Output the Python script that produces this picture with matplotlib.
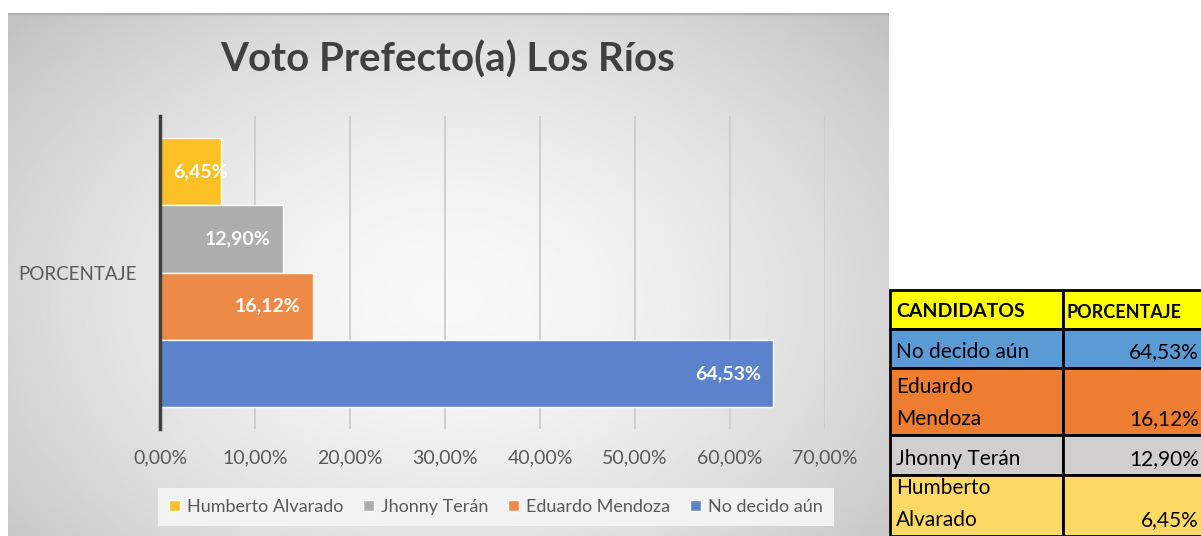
import numpy as np
import matplotlib
matplotlib.use("Agg")
import matplotlib.pyplot as plt
from matplotlib.patches import Rectangle

plt.rcParams['font.family'] = ['Lato', 'DejaVu Sans']

# data
candidatos = ['Humberto Alvarado', 'Jhonny Terán', 'Eduardo Mendoza', 'No decido aún']
porcentaje = [6.45, 12.90, 16.12, 64.53]
colores = ['#FBC124', '#ADADAD', '#EE8A48', '#5B82CA']
categoria = 'PORCENTAJE'
xticks = [0, 10, 20, 30, 40, 50, 60, 70]

tabla_nombres = ['No decido aún', 'Eduardo\nMendoza', 'Jhonny Terán', 'Humberto\nAlvarado']
tabla_valores = ['64,53%', '16,12%', '12,90%', '6,45%']
tabla_colores = ['#5B9BD5', '#ED7D31', '#D0CECE', '#FFD966']

W, H = 1201, 536
fig = plt.figure(figsize=(W / 100, H / 100), dpi=100)
fig.patch.set_facecolor('white')

def fx(px):
    return px / W

def fy(py):
    return 1 - py / H

# gradient background of the chart box
bg = fig.add_axes([fx(8), fy(536), fx(889 - 8), (536 - 13) / H])
yy, xx = np.mgrid[0:1:200j, 0:1:400j]
r = np.sqrt(((xx - 0.5) / 0.62) ** 2 + ((yy - 0.55) / 0.75) ** 2)
g = np.clip(0.975 - 0.19 * r ** 1.6, 0.76, 1)
bg.imshow(g, cmap='gray', vmin=0, vmax=1, aspect='auto', extent=[0, 1, 0, 1])
bg.axhline(1, color='#b0b0b0', lw=2.5)
bg.set_axis_off()

# main axes
ax = fig.add_axes([fx(160), fy(429), fx(825 - 160), (429 - 116) / H])
ax.set_facecolor('none')
n = len(porcentaje)
group = 0.862
h = group / n
start = 0.5 - group / 2
for i, (name, val, col) in enumerate(zip(candidatos, porcentaje, colores)):
    yc = start + h * (i + 0.5)
    ax.barh(yc, val, height=h, color=col, edgecolor='white', lw=1, label=name, zorder=3)
    lab = f'{val:.2f}%'.replace('.', ',')
    if val < 10:
        # label wider than the bar: starts inside the base
        ax.text(1.35, yc, lab, ha='left', va='center',
                color='white', fontsize=14, fontweight='bold', zorder=4)
    else:
        ax.text(val - 1.3, yc, lab, ha='right', va='center',
                color='white', fontsize=14, fontweight='bold', zorder=4)

ax.set_xlim(0, 70)
ax.set_ylim(1, 0)
ax.set_xticks(xticks)
ax.set_xticklabels([f'{t:.2f}%'.replace('.', ',') for t in xticks], fontsize=14, color='#595959')
ax.set_yticks([0.5])
ax.set_yticklabels([categoria], fontsize=13.5, color='#595959')
ax.tick_params(length=0, pad=15, axis='x')
ax.tick_params(length=0, pad=17, axis='y')
ax.grid(axis='x', color='#cccccc', lw=1.3, zorder=0)
for s in ['top', 'right', 'bottom']:
    ax.spines[s].set_visible(False)
ax.spines['left'].set_color('#404040')
ax.spines['left'].set_linewidth(2.5)
ax.spines['left'].set_zorder(5)

fig.text(fx(448), fy(60), 'Voto Prefecto(a) Los Ríos', ha='center', va='center',
         fontsize=29, fontweight='bold', color='#404040')

leg = fig.legend(loc='center', bbox_to_anchor=(fx(496), fy(507)), ncol=4,
                 frameon=True, fancybox=False, facecolor='#f2f2f2', edgecolor='none',
                 fontsize=13, handlelength=0.6, handleheight=0.6, handletextpad=0.4,
                 columnspacing=1.1, borderpad=0.6, framealpha=1)
for t in leg.get_texts():
    t.set_color('#595959')

# table on the right
tb = fig.add_axes([0, 0, 1, 1])
tb.set_xlim(0, W)
tb.set_ylim(H, 0)
tb.set_axis_off()
x0, x1, x2 = 890, 1063, 1201
heights = [39, 39, 67, 40, 61]
y = 290
filas = [('CANDIDATOS', 'PORCENTAJE', '#FFFF00', True)] + \
        [(a, b, c, False) for a, b, c in zip(tabla_nombres, tabla_valores, tabla_colores)]
for (nombre, valor, col, head), hh in zip(filas, heights):
    tb.add_patch(Rectangle((x0, y), x1 - x0, hh, facecolor=col, edgecolor='black', lw=2))
    tb.add_patch(Rectangle((x1, y), x2 - x1 + 5, hh, facecolor=col, edgecolor='black', lw=2))
    if head:
        tb.text(x0 + 6, y + hh / 2 + 2, nombre, ha='left', va='center', fontsize=14,
                fontweight='bold', color='black')
        tb.text(x1 + 4, y + hh / 2 + 3, valor, ha='left', va='center', fontsize=13,
                fontweight='bold', color='black')
    else:
        tb.text(x0 + 6, y + hh - 6, nombre, ha='left', va='bottom', fontsize=15,
                color='black', linespacing=1.75)
        tb.text(x2 - 2, y + hh - 6, valor, ha='right', va='bottom', fontsize=15,
                color='black')
    y += hh

fig.savefig('out.png', dpi=100)
